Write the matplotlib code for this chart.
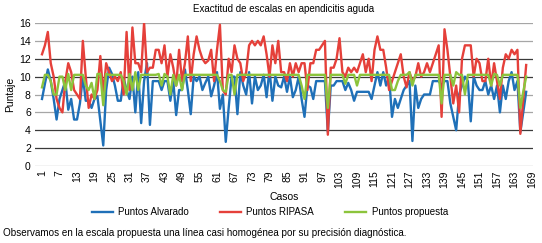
import matplotlib.pyplot as plt

plt.rcParams['font.family'] = ['Liberation Sans', 'DejaVu Sans']

# data (cases 1..167)
alvarado = [
    7.5, 9.2, 10.8, 9.5, 7.5, 5.2, 7.5, 8.5, 9.5, 6.3,
    7.5, 5.2, 5.2, 7.0, 10.0, 7.3, 7.3, 6.5, 7.5, 7.8,
    5.0, 2.3, 8.5, 11.0, 10.3, 9.0, 7.3, 7.3, 9.8, 8.5,
    7.5, 10.0, 6.0, 10.5, 4.8, 9.5, 11.5, 4.6, 9.5, 9.5,
    9.5, 8.5, 9.5, 9.5, 7.3, 9.5, 5.7, 8.5, 8.5, 10.8,
    8.5, 5.8, 10.0, 9.5, 10.0, 8.5, 9.3, 10.0, 7.8, 9.0,
    10.5, 6.4, 8.0, 2.7, 6.5, 10.0, 10.0, 5.8, 10.5, 9.0,
    8.0, 10.5, 7.0, 10.0, 8.5, 9.0, 10.2, 7.7, 10.8, 7.3,
    10.0, 9.0, 8.8, 10.0, 8.3, 10.0, 7.7, 8.5, 10.0, 7.5,
    5.5, 9.0, 8.8, 7.5, 9.5, 9.5, 9.5, 9.5, 3.8, 9.0,
    9.0, 9.5, 9.5, 9.5, 8.5, 9.3, 8.5, 7.3, 8.3, 8.3,
    8.3, 8.3, 8.3, 7.5, 9.0, 10.5, 9.0, 10.5, 9.0, 10.0,
    5.5, 7.5, 6.5, 7.5, 8.5, 9.0, 9.5, 2.8, 9.0, 6.5,
    7.5, 8.0, 8.0, 8.0, 9.5, 9.5, 9.5, 9.0, 9.5, 9.5,
    7.0, 5.5, 4.0, 8.0, 9.0, 10.0, 9.5, 5.0, 10.0, 9.0,
    8.5, 8.5, 9.5, 8.0, 9.0, 7.5, 9.0, 6.0, 9.0, 7.5,
    9.5, 10.5, 8.5, 9.5, 3.8, 6.0, 8.3,
]
ripasa = [
    12.5, 13.5, 15.0, 11.5, 10.0, 7.5, 6.5, 6.0, 9.5, 11.5,
    10.5, 8.5, 8.0, 7.5, 14.0, 10.0, 6.5, 8.0, 7.5, 8.5,
    12.3, 8.0, 11.5, 10.5, 9.5, 10.0, 9.5, 10.5, 8.0, 15.0,
    8.5, 15.5, 11.5, 11.5, 10.5, 16.0, 10.5, 11.0, 11.0, 13.0,
    13.0, 11.5, 13.5, 10.0, 12.5, 11.0, 9.0, 13.0, 9.5, 11.5,
    14.5, 9.5, 12.5, 14.5, 13.0, 12.0, 11.5, 11.8, 13.0, 9.5,
    13.0, 15.8, 8.5, 8.0, 12.0, 10.5, 13.5, 12.0, 11.5, 9.5,
    10.5, 13.5, 14.0, 13.5, 14.0, 13.5, 14.5, 12.5, 10.0, 13.5,
    11.5, 14.0, 10.5, 10.5, 9.5, 11.5, 10.0, 11.5, 10.5, 11.5,
    11.5, 8.5, 11.5, 11.5, 13.0, 13.0, 13.5, 14.0, 3.5, 11.0,
    11.0, 12.0, 14.3, 10.5, 10.0, 11.0, 10.5, 11.0, 10.5, 11.5,
    12.5, 10.5, 12.0, 9.5, 13.0, 14.5, 13.0, 13.0, 11.0, 8.5,
    9.5, 10.5, 11.5, 12.5, 10.0, 8.8, 10.5, 9.5, 10.0, 11.5,
    10.0, 10.5, 11.5, 10.5, 11.5, 12.5, 13.5, 5.5, 15.3, 13.0,
    10.0, 7.0, 9.0, 6.0, 12.0, 13.5, 13.5, 13.5, 10.0, 12.0,
    11.5, 9.5, 9.5, 12.0, 9.0, 11.5, 9.5, 7.5, 11.0, 12.5,
    12.0, 13.0, 12.5, 13.0, 3.6, 7.5, 11.3,
]
propuesta = [
    8.8, 10.2, 10.2, 9.5, 8.0, 8.0, 10.0, 10.0, 8.5, 10.3,
    8.5, 10.2, 10.2, 10.2, 10.2, 9.0, 8.5, 9.3, 7.5, 10.3,
    10.3, 6.8, 10.3, 10.2, 10.2, 10.2, 10.2, 10.2, 9.5, 8.0,
    10.3, 8.5, 10.5, 8.5, 10.2, 10.2, 10.2, 10.2, 10.2, 10.2,
    10.3, 9.0, 10.3, 10.0, 8.0, 10.2, 9.0, 10.2, 8.5, 10.2,
    10.2, 10.2, 10.2, 10.2, 10.2, 10.2, 10.2, 10.2, 10.2, 10.2,
    10.2, 9.5, 8.5, 8.3, 10.2, 10.2, 8.0, 10.2, 10.2, 10.2,
    10.2, 10.2, 10.2, 10.2, 10.2, 10.2, 10.2, 10.2, 10.2, 10.2,
    10.2, 10.2, 10.2, 10.2, 10.2, 10.2, 10.2, 10.2, 10.2, 9.0,
    7.5, 10.2, 10.2, 10.2, 10.2, 10.2, 10.2, 10.2, 6.5, 10.2,
    10.2, 10.2, 10.2, 10.2, 9.2, 10.2, 10.2, 10.2, 9.0, 10.2,
    10.2, 10.2, 10.2, 10.2, 10.2, 10.2, 10.2, 10.2, 10.2, 10.2,
    8.5, 8.5, 9.5, 10.2, 10.2, 10.2, 10.5, 9.0, 10.2, 10.2,
    10.2, 10.2, 10.2, 10.2, 10.2, 10.2, 10.2, 7.0, 10.2, 10.2,
    10.2, 9.0, 10.5, 10.2, 10.2, 8.0, 10.2, 10.2, 10.2, 10.2,
    10.2, 10.2, 10.2, 10.2, 9.0, 10.3, 10.2, 9.0, 10.2, 10.2,
    10.2, 10.2, 10.2, 10.2, 6.5, 8.3, 10.0,
]
casos = list(range(1, len(alvarado) + 1))
tick_casos = list(range(1, 170, 6))

fig = plt.figure(figsize=(5.42, 2.43), dpi=100)
ax = fig.add_axes([35 / 542, 1 - 166 / 243, 498 / 542, 143 / 243])

# horizontal gridlines (some look darker in the original)
for v in range(0, 17, 2):
    c = "#3a3a3a" if v in (2, 4, 10, 12) else "#a6a6a6"
    ax.axhline(v, color=c, lw=0.9, zorder=0)

ax.plot(casos, alvarado, color="#1f70b8", lw=1.7, label="Puntos Alvarado")
ax.plot(casos, ripasa, color="#e5403a", lw=1.7, label="Puntos RIPASA")
ax.plot(casos, propuesta, color="#8cc43c", lw=1.7, label="Puntos propuesta")

ax.set_xlim(-1.4, 169.34)
ax.set_ylim(0, 16)
ax.set_yticks(range(0, 17, 2))
ax.set_xticks(tick_casos)
ax.set_xticklabels([str(t) for t in tick_casos], rotation=90)
ax.tick_params(length=0, labelsize=7.5, pad=3)
for s in ax.spines.values():
    s.set_visible(False)

ax.set_title("Exactitud de escalas en apendicitis aguda", fontsize=7, pad=8, x=0.5)
ax.set_ylabel("Puntaje", fontsize=7.5, labelpad=3)
ax.set_xlabel("Casos", fontsize=7.5, labelpad=3)

fig.legend(loc="center", bbox_to_anchor=(270 / 542, 1 - 212 / 243), ncol=3,
           frameon=False, fontsize=7, handlelength=2.1, columnspacing=3.2,
           handletextpad=0.6)
fig.text(3 / 542, 1 - 233 / 243,
         "Observamos en la escala propuesta una línea casi homogénea por su precisión diagnóstica.",
         fontsize=7.1, va="center", ha="left")

fig.savefig("out.png", dpi=100)
